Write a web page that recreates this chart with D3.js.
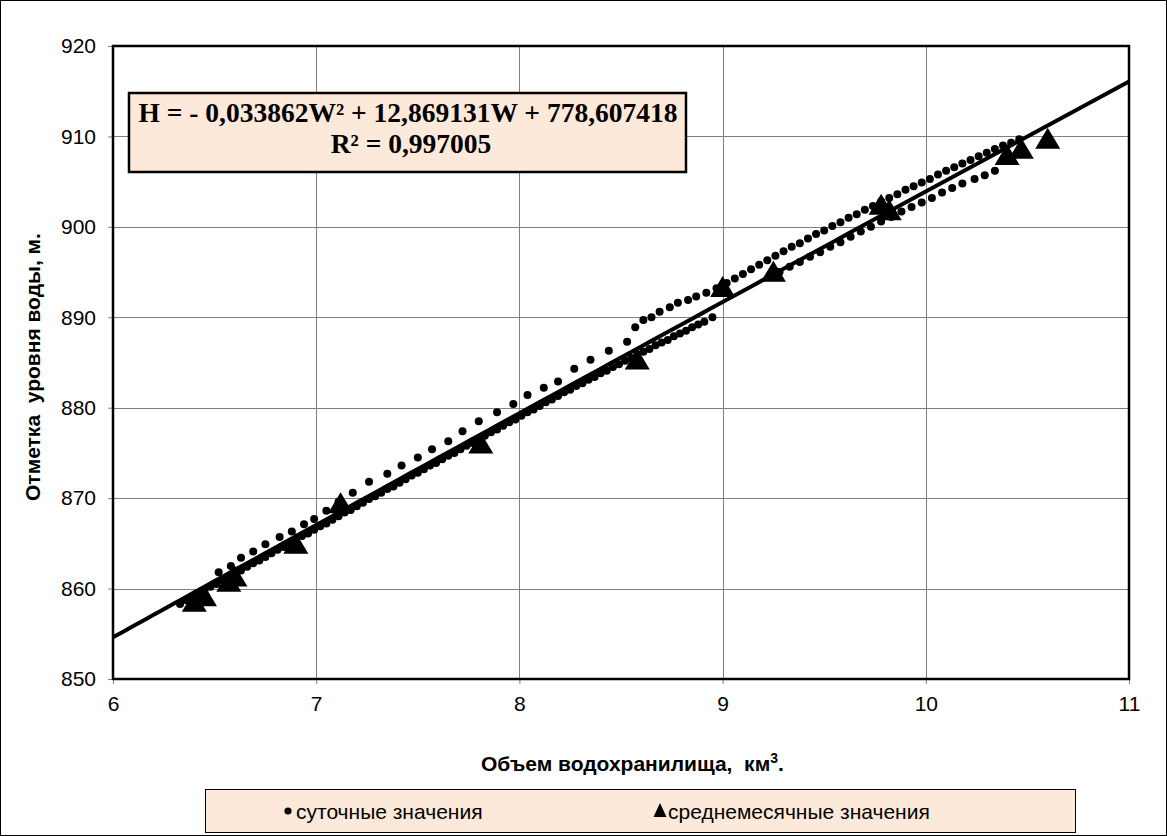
<!DOCTYPE html>
<html>
<head>
<meta charset="utf-8">
<script src="https://cdn.jsdelivr.net/npm/d3@7"></script>
<style>
  body { margin: 0; background: #fff; }
  svg { display: block; }
  .tick text { font-family: Arial, "Liberation Sans", sans-serif; font-size: 21px; fill: #000; }
</style>
</head>
<body>
<svg id="chart" width="1167" height="836"></svg>
<script>
// Axis ticks
const xTicks = [6, 7, 8, 9, 10, 11];
const yTicks = [850, 860, 870, 880, 890, 900, 910, 920];

// Polynomial trend H = a*W^2 + b*W + c
const trendCoef = { a: -0.033862, b: 12.869131, c: 778.607418 };
const trendR2 = 0.997005;

// Daily values (W, km3 ; H, m) — drawdown branch, dense
const dailyLower = [
  [6.33,858.3],[6.36,858.7],[6.39,859.0],[6.42,859.4],[6.45,859.8],[6.48,860.2],[6.51,860.5],
  [6.54,860.9],[6.57,861.3],[6.60,861.6],[6.63,862.0],[6.66,862.4],[6.69,862.8],[6.72,863.1],
  [6.75,863.5],[6.78,863.9],[6.81,864.3],[6.84,864.6],[6.87,865.0],[6.90,865.4],[6.93,865.8],
  [6.96,866.1],[6.99,866.5],[7.02,866.9],[7.05,867.2],[7.08,867.6],[7.11,868.0],[7.14,868.4],
  [7.17,868.7],[7.20,869.1],[7.23,869.5],[7.26,869.9],[7.29,870.2],[7.32,870.6],[7.35,871.0],
  [7.38,871.3],[7.41,871.7],[7.44,872.1],[7.47,872.5],[7.50,872.8],[7.53,873.2],[7.56,873.6],
  [7.59,873.9],[7.62,874.3],[7.65,874.7],[7.68,875.0],[7.71,875.4],[7.74,875.8],[7.77,876.1],
  [7.80,876.5],[7.83,876.9],[7.86,877.3],[7.89,877.6],[7.92,878.0],[7.95,878.4],[7.98,878.7],
  [8.01,879.1],[8.04,879.5],[8.07,879.8],[8.10,880.2],[8.13,880.6],[8.16,880.9],[8.19,881.3],
  [8.22,881.7],[8.25,882.0],[8.28,882.4],[8.31,882.7],[8.34,883.1],[8.37,883.4],[8.40,883.8],
  [8.43,884.1],[8.46,884.5],[8.49,884.8],[8.52,885.2],[8.55,885.5],[8.58,885.9],[8.61,886.2],
  [8.64,886.5],[8.67,886.9],[8.70,887.2],[8.73,887.5],[8.76,887.9],[8.79,888.2],[8.82,888.5],
  [8.85,888.9],[8.88,889.2],[8.91,889.5],[8.95,890.0]
];

// Daily values — filling branch, sparse above the trend
const dailyUpper = [
  [6.52,861.8],[6.58,862.5],[6.63,863.4],[6.69,864.1],[6.75,864.9],[6.82,865.7],[6.88,866.3],
  [6.94,867.1],[6.99,867.7],[7.05,868.6],[7.11,869.6],[7.18,870.6],[7.26,871.8],[7.35,872.7],
  [7.42,873.6],[7.50,874.5],[7.57,875.4],[7.65,876.3],[7.72,877.4],[7.80,878.5],[7.89,879.5],
  [7.97,880.4],[8.04,881.4],[8.12,882.2],[8.19,882.9],[8.27,884.3],[8.35,885.3],[8.44,886.3],
  [8.53,887.3]
];

// Daily values — upper reach, W > 8.5
const dailyTop = [
  [8.57,888.9],[8.61,889.7],[8.65,890.0],[8.69,890.6],[8.74,891.1],[8.78,891.6],[8.83,891.9],
  [8.87,892.3],[8.92,892.7],[8.97,893.2],[9.02,893.8],[9.06,894.3],[9.10,894.8],[9.14,895.3],
  [9.18,895.8],[9.22,896.3],[9.26,896.8],[9.30,897.3],[9.34,897.8],[9.38,898.2],[9.42,898.7],
  [9.46,899.2],[9.50,899.6],[9.54,900.1],[9.58,900.5],[9.62,901.0],[9.66,901.4],[9.70,901.9],
  [9.74,902.3],[9.78,902.8],[9.82,903.2],[9.86,903.6],[9.90,904.1],[9.94,904.5],[9.98,904.9],
  [10.02,905.3],[10.06,905.8],[10.10,906.2],[10.14,906.6],[10.18,907.0],[10.22,907.4],
  [10.26,907.8],[10.30,908.2],[10.34,908.6],[10.38,909.0],[10.42,909.3],[10.46,909.7]
];

// Daily values — descending reach below the trend
const dailyFalling = [
  [10.34,906.2],[10.29,905.7],[10.24,905.3],[10.18,904.8],[10.13,904.3],[10.08,903.8],
  [10.03,903.2],[9.98,902.7],[9.93,902.2],[9.88,901.7],[9.83,901.1],[9.78,900.6],[9.73,900.0],
  [9.68,899.5],[9.63,898.9],[9.58,898.3],[9.53,897.8],[9.48,897.2],[9.43,896.7],[9.38,896.1],
  [9.33,895.6],[9.28,895.0]
];

// Monthly mean values
const monthly = [
  [6.40,858.6],[6.45,859.2],[6.57,860.8],[6.60,861.4],[6.90,865.0],[7.12,869.5],[7.81,876.1],
  [8.58,885.4],[9.00,893.4],[9.25,895.1],[9.78,902.5],[9.82,901.9],[10.40,908.0],[10.47,908.7],
  [10.60,909.8]
];

const W = 1167, H = 836;
const plot = { left: 113, top: 46, right: 1129, bottom: 679 };
const sans = 'Arial, "Liberation Sans", sans-serif';
const serif = '"Times New Roman", "Liberation Serif", serif';
const svg = d3.select('#chart');

svg.append('rect').attr('x', 0.5).attr('y', 0.5).attr('width', W - 1).attr('height', H - 1)
  .attr('fill', '#fff').attr('stroke', '#000').attr('stroke-width', 1);

const x = d3.scaleLinear().domain([6, 11]).range([plot.left, plot.right]);
const y = d3.scaleLinear().domain([850, 920]).range([plot.bottom, plot.top]);

// Grid
const grid = svg.append('g');
grid.selectAll('.gx').data(xTicks.slice(1, -1)).join('line')
  .attr('x1', d => Math.round(x(d)) + 0.5).attr('x2', d => Math.round(x(d)) + 0.5)
  .attr('y1', plot.top).attr('y2', plot.bottom).attr('stroke', '#808080').attr('stroke-width', 1);
grid.selectAll('.gy').data(yTicks.slice(1, -1)).join('line')
  .attr('y1', d => Math.round(y(d)) + 0.5).attr('y2', d => Math.round(y(d)) + 0.5)
  .attr('x1', plot.left).attr('x2', plot.right).attr('stroke', '#808080').attr('stroke-width', 1);

// Axes
const xAxis = d3.axisBottom(x).tickValues(xTicks).tickSize(5).tickPadding(12).tickFormat(d3.format('d'));
const yAxis = d3.axisLeft(y).tickValues(yTicks).tickSize(5).tickPadding(12).tickFormat(d3.format('d'));
const gx = svg.append('g').attr('transform', `translate(0,${plot.bottom})`).call(xAxis);
const gy = svg.append('g').attr('transform', `translate(${plot.left},0)`).call(yAxis);
[gx, gy].forEach(g => {
  g.select('.domain').remove();
  g.selectAll('line').attr('stroke', '#808080');
});

// Trend curve
const trendFn = w => trendCoef.a * w * w + trendCoef.b * w + trendCoef.c;
const trendPts = d3.range(6, 11.0001, 0.05).map(w => [w, trendFn(w)]);

svg.append('clipPath').attr('id', 'plotclip').append('rect')
  .attr('x', plot.left).attr('y', plot.top)
  .attr('width', plot.right - plot.left).attr('height', plot.bottom - plot.top);

const marks = svg.append('g').attr('clip-path', 'url(#plotclip)');

marks.append('path').datum(trendPts)
  .attr('d', d3.line().x(d => x(d[0])).y(d => y(d[1])))
  .attr('fill', 'none').attr('stroke', '#000').attr('stroke-width', 4);

const dots = [].concat(dailyLower, dailyUpper, dailyTop, dailyFalling);
marks.selectAll('circle.daily').data(dots).join('circle')
  .attr('class', 'daily')
  .attr('cx', d => x(d[0])).attr('cy', d => y(d[1])).attr('r', 4).attr('fill', '#000');

// Isosceles triangle marker, centred on its bounding box
const triPath = (w, h) => `M0,${-h / 2}L${w / 2},${h / 2}L${-w / 2},${h / 2}Z`;
marks.selectAll('path.monthly').data(monthly).join('path')
  .attr('class', 'monthly')
  .attr('transform', d => `translate(${x(d[0])},${y(d[1])})`)
  .attr('d', triPath(25, 21)).attr('fill', '#000');

// Plot frame
svg.append('rect').attr('x', plot.left).attr('y', plot.top)
  .attr('width', plot.right - plot.left).attr('height', plot.bottom - plot.top)
  .attr('fill', 'none').attr('stroke', '#000').attr('stroke-width', 2.5);

// Equation box
const fmt = v => String(v).replace('.', ',');
const eqBox = svg.append('g');
eqBox.append('rect').attr('x', 129).attr('y', 93).attr('width', 557).attr('height', 79)
  .attr('fill', '#fde9d9').attr('stroke', '#000').attr('stroke-width', 2.5);
eqBox.append('text').attr('x', 408).attr('y', 122).attr('text-anchor', 'middle')
  .attr('font-family', serif).attr('font-weight', 'bold').attr('font-size', 27.5)
  .text(`H = - ${fmt(Math.abs(trendCoef.a))}W² + ${fmt(trendCoef.b)}W + ${fmt(trendCoef.c)}`);
eqBox.append('text').attr('x', 411).attr('y', 153).attr('text-anchor', 'middle')
  .attr('font-family', serif).attr('font-weight', 'bold').attr('font-size', 27.5)
  .text(`R² = ${fmt(trendR2)}`);

// Axis titles
svg.append('text').attr('x', 481).attr('y', 771).attr('text-anchor', 'start')
  .attr('font-family', sans).attr('font-weight', 'bold').attr('font-size', 21)
  .html('Объем водохранилища,&#160; км<tspan dy="-8" font-size="14">3</tspan><tspan dy="8">.</tspan>');
svg.append('text').attr('transform', 'translate(40,367) rotate(-90)').attr('text-anchor', 'middle')
  .attr('font-family', sans).attr('font-weight', 'bold').attr('font-size', 21)
  .text('Отметка\u00a0 уровня воды, м.');

// Legend
const lg = svg.append('g');
lg.append('rect').attr('x', 205.5).attr('y', 789.5).attr('width', 870).attr('height', 43)
  .attr('fill', '#fde9d9').attr('stroke', '#000').attr('stroke-width', 1);
lg.append('circle').attr('cx', 288).attr('cy', 811).attr('r', 3.6).attr('fill', '#000');
lg.append('text').attr('x', 296).attr('y', 819).attr('font-family', sans).attr('font-size', 21)
  .text('суточные значения');
lg.append('path').attr('transform', 'translate(660,810)')
  .attr('d', triPath(13, 14)).attr('fill', '#000');
lg.append('text').attr('x', 668).attr('y', 819).attr('font-family', sans).attr('font-size', 21)
  .text('среднемесячные значения');
</script>
</body>
</html>
